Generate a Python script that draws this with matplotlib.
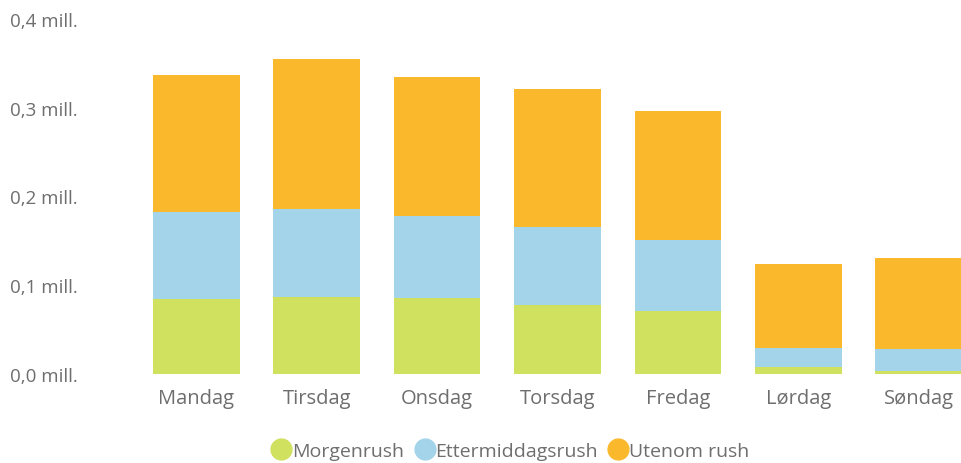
import matplotlib.pyplot as plt
from matplotlib.lines import Line2D
import numpy as np

days = ["Mandag", "Tirsdag", "Onsdag", "Torsdag", "Fredag", "Lørdag", "Søndag"]
morgen = [0.0845, 0.0868, 0.0856, 0.0777, 0.0710, 0.0079, 0.0034]
ettermiddag = [0.0975, 0.0990, 0.0920, 0.0875, 0.0805, 0.0211, 0.0246]
utenom = [0.1550, 0.1695, 0.1575, 0.1560, 0.1450, 0.0945, 0.1025]
series_names = ["Morgenrush", "Ettermiddagsrush", "Utenom rush"]
colors = ["#D0E05F", "#A4D4EA", "#FAB92D"]
yticks = [0.0, 0.1, 0.2, 0.3, 0.4]

plt.rcParams["font.family"] = ["Open Sans", "DejaVu Sans"]
grey = "#6E6E6E"

fig = plt.figure(figsize=(9.61, 4.64), dpi=100)
ax = fig.add_axes([124 / 961, 89 / 464, 1 - 124 / 961, 355 / 464])

x = np.arange(len(days))
bottom = np.zeros(len(days))
for vals, col in zip([morgen, ettermiddag, utenom], colors):
    ax.bar(x, vals, width=0.72, bottom=bottom, color=col, linewidth=0)
    bottom += np.array(vals)

ax.set_xlim(-0.6, 6.35)
ax.set_ylim(0, 0.4)
ax.set_yticks(yticks)
ax.set_yticklabels([f"{v:.1f}".replace(".", ",") + " mill." for v in yticks])
ax.set_xticks(x)
ax.set_xticklabels(days)
ax.tick_params(axis="y", length=0, pad=82, labelsize=13.5, labelcolor=grey)
ax.tick_params(axis="x", length=0, pad=10, labelsize=14.5, labelcolor=grey)
for lbl in ax.get_yticklabels():
    lbl.set_horizontalalignment("left")
for s in ax.spines.values():
    s.set_visible(False)

handles = [Line2D([], [], marker="o", linestyle="", markersize=15, color=c) for c in colors]
fig.legend(handles, series_names, loc="center", bbox_to_anchor=(510 / 961, 1 - 452 / 464),
           ncol=3, frameon=False, handletextpad=0.0, columnspacing=0.5,
           prop={"size": 14}, labelcolor=grey, handlelength=1.1)

fig.savefig("out.png", dpi=100)
